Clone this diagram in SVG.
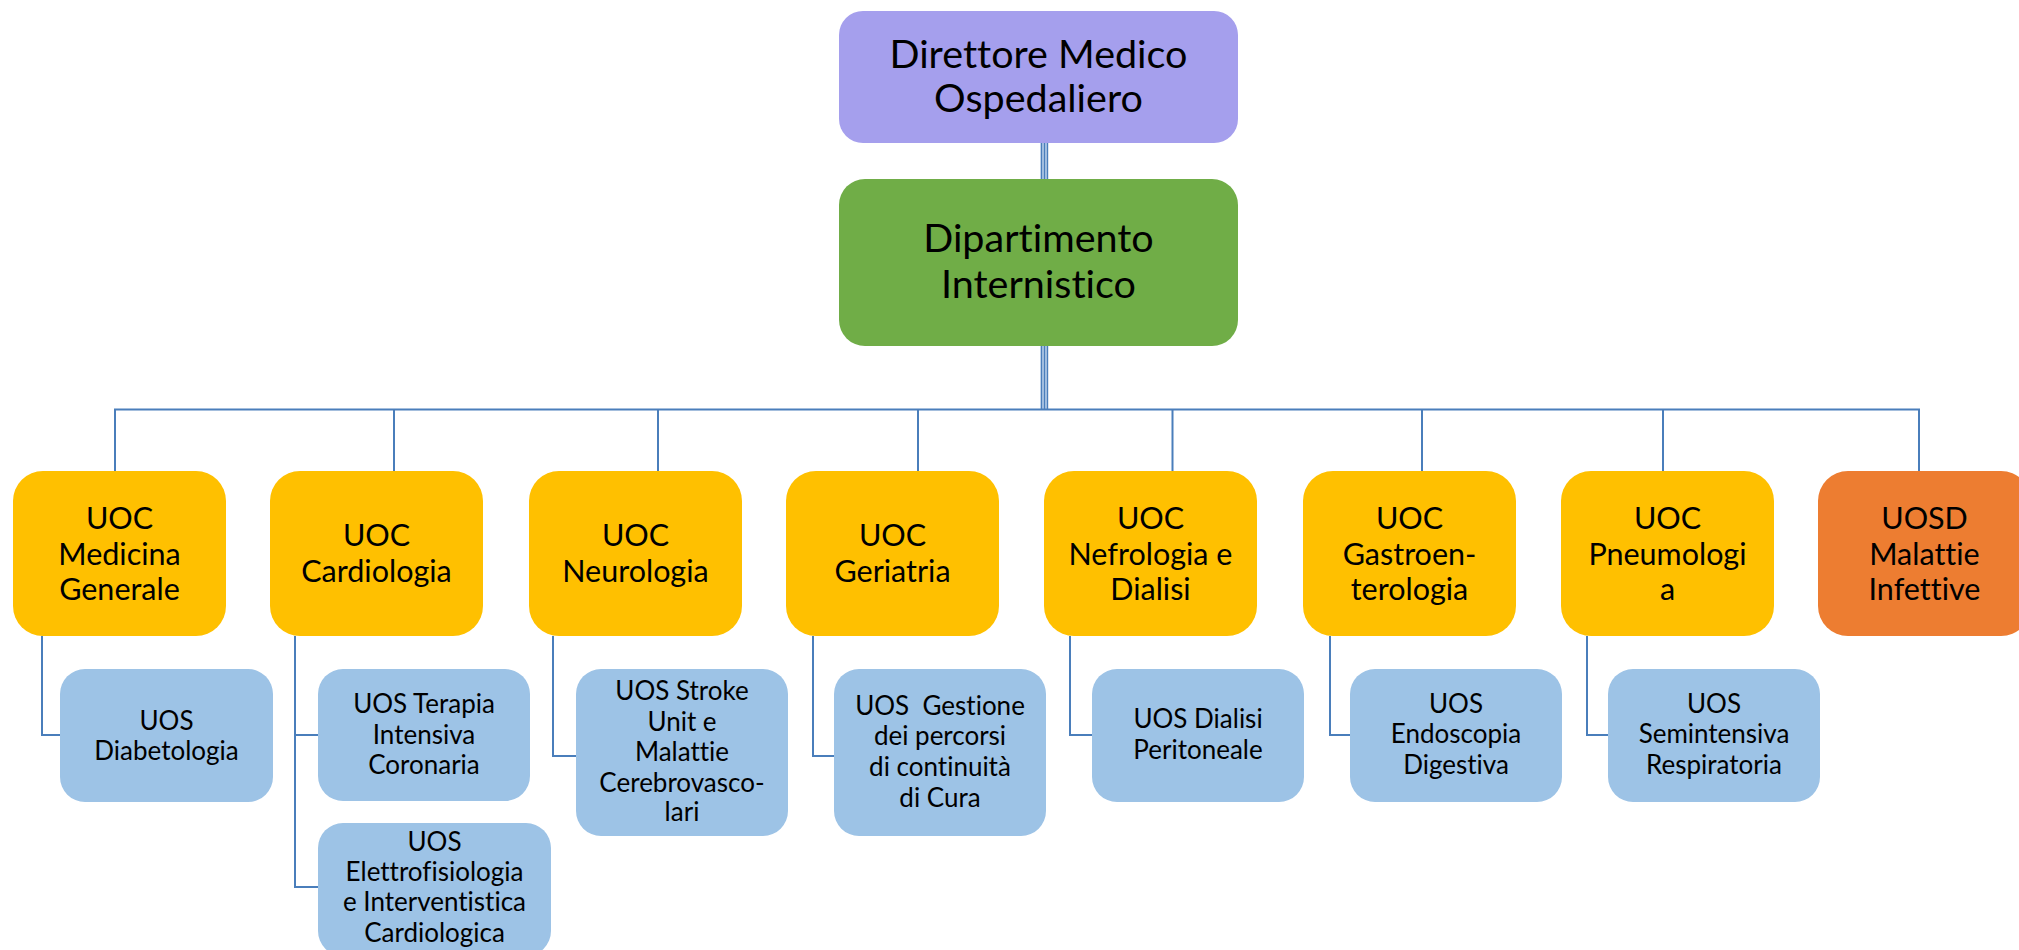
<svg xmlns="http://www.w3.org/2000/svg" width="2019" height="950" viewBox="0 0 2019 950">
<style>
.t{font-family:Lato,"Liberation Sans",sans-serif;fill:#000;text-anchor:middle;font-variant-ligatures:none;font-feature-settings:"liga" 0}
.top{font-size:39.5px}
.uoc{font-size:30.5px}
.uos{font-size:26px}
.c{fill:none;stroke:#4a7ebb;stroke-width:2}
.tr{fill:none;stroke:#4a7ebb;stroke-width:1.4}
.dir{fill:#a59fed}
.dep{fill:#70ad47}
.y{fill:#ffc000}
.o{fill:#ed7d31}
.b{fill:#9dc3e6}
</style>
<rect width="2019" height="950" fill="#fff"/>
<g id="connectors">
<rect x="1040.5" y="143" width="7.5" height="36" fill="#b7cde9"/>
<rect x="1040.5" y="346" width="7.5" height="63" fill="#b7cde9"/>
<path class="tr" d="M1041.5 143V179M1044.5 143V179M1047.5 143V179M1041.5 346V409M1044.5 346V409M1047.5 346V409"/>
<path class="c" d="M115 471V409.5H1919V471M394 409.5V471M658 409.5V471M918 409.5V471M1172.5 409.5V471M1422 409.5V471M1663 409.5V471"/>
<path class="c" d="M42 636V735H60"/>
<path class="c" d="M295 636V887H318M295 735H318"/>
<path class="c" d="M553 636V756H576"/>
<path class="c" d="M813 636V756H834"/>
<path class="c" d="M1070 636V735H1092"/>
<path class="c" d="M1330 636V735H1350"/>
<path class="c" d="M1587 636V735H1608"/>
</g>
<g id="n-direttore"><rect class="dir" x="839" y="11" width="399" height="132" rx="24"/>
<text class="t top" x="1038.5" y="68">Direttore Medico</text><text class="t top" x="1038.5" y="112">Ospedaliero</text></g>
<g id="n-dipartimento"><rect class="dep" x="839" y="179" width="399" height="167" rx="26"/>
<text class="t top" x="1038.5" y="252">Dipartimento</text><text class="t top" x="1038.5" y="298">Internistico</text></g>

<g id="n-medicina"><rect class="y" x="13" y="471" width="213" height="165" rx="30"/>
<text class="t uoc" x="119.5" y="529">UOC</text><text class="t uoc" x="119.5" y="565">Medicina</text><text class="t uoc" x="119.5" y="600">Generale</text></g>
<g id="n-cardiologia"><rect class="y" x="270" y="471" width="213" height="165" rx="30"/>
<text class="t uoc" x="376.5" y="546">UOC</text><text class="t uoc" x="376.5" y="582">Cardiologia</text></g>
<g id="n-neurologia"><rect class="y" x="529" y="471" width="213" height="165" rx="30"/>
<text class="t uoc" x="635.5" y="546">UOC</text><text class="t uoc" x="635.5" y="582">Neurologia</text></g>
<g id="n-geriatria"><rect class="y" x="786" y="471" width="213" height="165" rx="30"/>
<text class="t uoc" x="892.5" y="546">UOC</text><text class="t uoc" x="892.5" y="582">Geriatria</text></g>
<g id="n-nefrologia"><rect class="y" x="1044" y="471" width="213" height="165" rx="30"/>
<text class="t uoc" x="1150.5" y="529">UOC</text><text class="t uoc" x="1150.5" y="565">Nefrologia e</text><text class="t uoc" x="1150.5" y="600">Dialisi</text></g>
<g id="n-gastro"><rect class="y" x="1303" y="471" width="213" height="165" rx="30"/>
<text class="t uoc" x="1409.5" y="529">UOC</text><text class="t uoc" x="1409.5" y="565">Gastroen-</text><text class="t uoc" x="1409.5" y="600">terologia</text></g>
<g id="n-pneumo"><rect class="y" x="1561" y="471" width="213" height="165" rx="30"/>
<text class="t uoc" x="1667.5" y="529">UOC</text><text class="t uoc" x="1667.5" y="565">Pneumologi</text><text class="t uoc" x="1667.5" y="600">a</text></g>
<g id="n-uosd"><rect class="o" x="1818" y="471" width="213" height="165" rx="30"/>
<text class="t uoc" x="1924.5" y="529">UOSD</text><text class="t uoc" x="1924.5" y="565">Malattie</text><text class="t uoc" x="1924.5" y="600">Infettive</text></g>

<g id="n-diabetologia"><rect class="b" x="60" y="669" width="213" height="133" rx="25"/>
<text class="t uos" x="166.5" y="730">UOS</text><text class="t uos" x="166.5" y="760">Diabetologia</text></g>
<g id="n-terapia"><rect class="b" x="318" y="669" width="212" height="132" rx="25"/>
<text class="t uos" x="424" y="713">UOS Terapia</text><text class="t uos" x="424" y="744">Intensiva</text><text class="t uos" x="424" y="774">Coronaria</text></g>
<g id="n-elettro"><rect class="b" x="318" y="823" width="233" height="133" rx="25"/>
<text class="t uos" x="434.5" y="851">UOS</text><text class="t uos" x="434.5" y="881">Elettrofisiologia</text><text class="t uos" x="434.5" y="911">e Interventistica</text><text class="t uos" x="434.5" y="942">Cardiologica</text></g>
<g id="n-stroke"><rect class="b" x="576" y="669" width="212" height="167" rx="25"/>
<text class="t uos" x="682" y="700">UOS Stroke</text><text class="t uos" x="682" y="731">Unit e</text><text class="t uos" x="682" y="761">Malattie</text><text class="t uos" x="682" y="792">Cerebrovasco-</text><text class="t uos" x="682" y="821">lari</text></g>
<g id="n-gestione"><rect class="b" x="834" y="669" width="212" height="167" rx="25"/>
<text class="t uos" x="940" y="715" xml:space="preserve">UOS  Gestione</text><text class="t uos" x="940" y="745">dei percorsi</text><text class="t uos" x="940" y="776">di continuità</text><text class="t uos" x="940" y="807">di Cura</text></g>
<g id="n-dialisi"><rect class="b" x="1092" y="669" width="212" height="133" rx="25"/>
<text class="t uos" x="1198" y="728">UOS Dialisi</text><text class="t uos" x="1198" y="759">Peritoneale</text></g>
<g id="n-endoscopia"><rect class="b" x="1350" y="669" width="212" height="133" rx="25"/>
<text class="t uos" x="1456" y="713">UOS</text><text class="t uos" x="1456" y="743">Endoscopia</text><text class="t uos" x="1456" y="774">Digestiva</text></g>
<g id="n-semintensiva"><rect class="b" x="1608" y="669" width="212" height="133" rx="25"/>
<text class="t uos" x="1714" y="713">UOS</text><text class="t uos" x="1714" y="743">Semintensiva</text><text class="t uos" x="1714" y="774">Respiratoria</text></g>
</svg>
